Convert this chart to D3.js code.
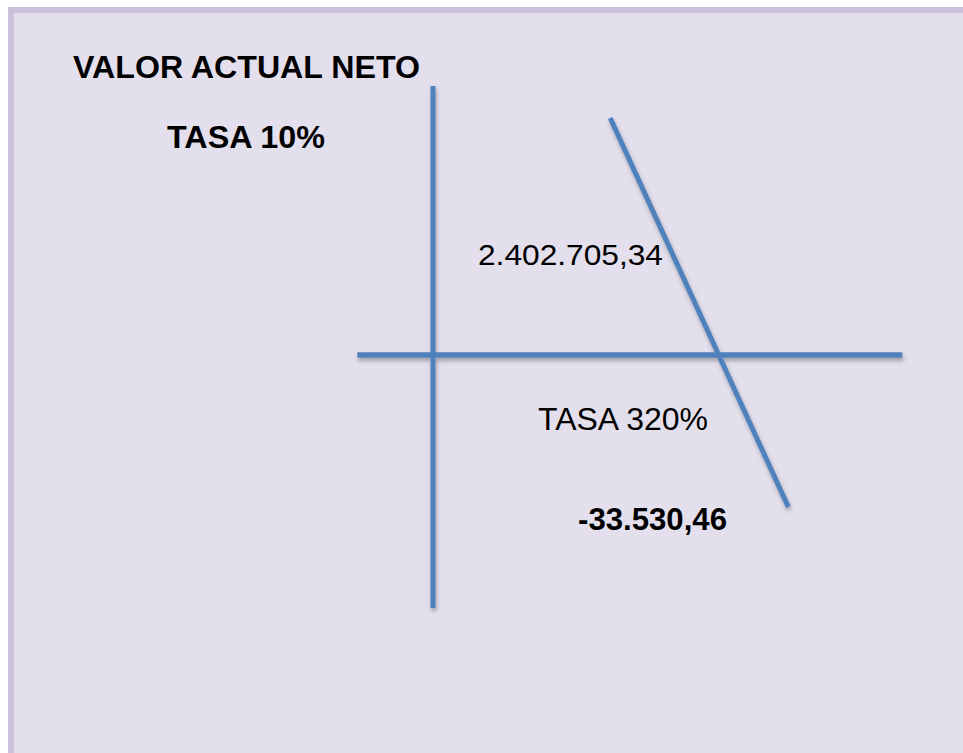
<!DOCTYPE html>
<html>
<head>
<meta charset="utf-8">
<script src="https://cdn.jsdelivr.net/npm/d3@7"></script>
<style>
  body { margin: 0; background: #fff; }
  svg { display: block; }
  text { font-family: "Liberation Sans", Arial, sans-serif; fill: #000; }
</style>
</head>
<body>
<svg id="van" width="963" height="753"></svg>
<script>
// schematic NPV profile (not to scale): rate in %, value in arbitrary units
const lineRates = [199, 399];
const lineValues = [237, -152];
const axisRates = [-85, 527];     // extent of the horizontal axis
const axisValues = [269, -253];   // extent of the vertical axis

const titles = ['VALOR ACTUAL NETO', 'TASA 10%'];
const npvLabel = '2.402.705,34';
const irrLabel = 'TASA 320%';
const negLabel = '-33.530,46';

const svg = d3.select('svg#van');
const width = +svg.attr('width');
const height = +svg.attr('height');

const x = d3.scaleLinear().domain([0, 320]).range([433, 718]);
const y = d3.scaleLinear().domain([0, 100]).range([355, 255]);

const defs = svg.append('defs');
const shadow = defs.append('filter').attr('id', 'shadow')
    .attr('x', '-20%').attr('y', '-20%').attr('width', '140%').attr('height', '140%');
shadow.append('feDropShadow')
    .attr('dx', 1).attr('dy', 3).attr('stdDeviation', 2)
    .attr('flood-color', '#000').attr('flood-opacity', 0.3);

// panel
svg.append('rect')
    .attr('x', 11).attr('y', 10)
    .attr('width', width + 10).attr('height', height + 10)
    .attr('fill', '#E4DFEC')
    .attr('stroke', '#CBC1DB')
    .attr('stroke-width', 6);

const lineColor = '#4F81BD';
const g = svg.append('g').attr('filter', 'url(#shadow)');

// horizontal axis (VAN = 0)
g.append('line')
    .attr('x1', x(axisRates[0])).attr('x2', x(axisRates[1]))
    .attr('y1', y(0)).attr('y2', y(0))
    .attr('stroke', lineColor).attr('stroke-width', 5.5);

// vertical axis (tasa = 0)
g.append('line')
    .attr('x1', x(0)).attr('x2', x(0))
    .attr('y1', y(axisValues[0])).attr('y2', y(axisValues[1]))
    .attr('stroke', lineColor).attr('stroke-width', 5);

// NPV line
const pts = lineRates.map((r, i) => [x(r), y(lineValues[i])]);
g.append('path')
    .attr('d', d3.line()(pts))
    .attr('fill', 'none')
    .attr('stroke', lineColor).attr('stroke-width', 5);

// labels
const labels = [
  {text: titles[0], x: 73, y: 78, size: 31, weight: 'bold', len: 347},
  {text: titles[1], x: 167, y: 148, size: 31, weight: 'bold', len: 158},
  {text: npvLabel, x: 478, y: 265, size: 30, weight: 'normal', len: 185},
  {text: irrLabel, x: 538, y: 430, size: 31, weight: 'normal', len: 170},
  {text: negLabel, x: 578, y: 530, size: 31, weight: 'bold', len: 149}
];

svg.append('g').selectAll('text')
    .data(labels)
    .enter().append('text')
    .attr('x', d => d.x)
    .attr('y', d => d.y)
    .attr('font-size', d => d.size)
    .attr('font-weight', d => d.weight)
    .attr('textLength', d => d.len)
    .attr('lengthAdjust', 'spacingAndGlyphs')
    .text(d => d.text);
</script>
</body>
</html>
